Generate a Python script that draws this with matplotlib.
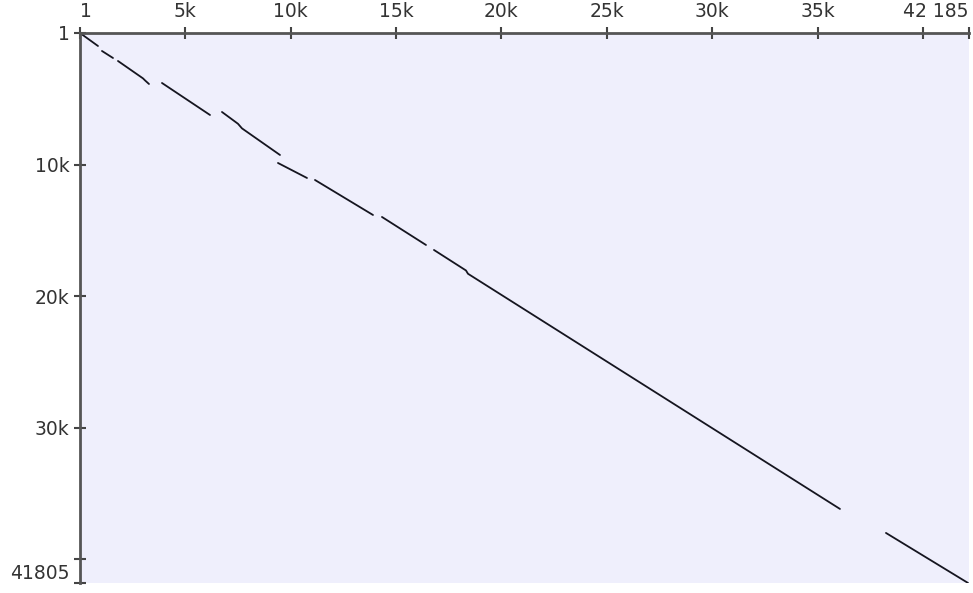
import matplotlib as mpl
mpl.use('Agg')
import matplotlib.pyplot as plt

# dot plot segments: query position (x) vs reference position (y)
seg_x = [
    [1, 854],
    [1044, 1566],
    [1803, 2990, 3084, 3274],
    [3891, 6169],
    [6738, 7497, 7687, 9490],
    [9395, 10771],
    [11151, 13903],
    [14330, 16418],
    [16797, 18316, 18411, 36062],
    [38245, 42136],
]
seg_y = [
    [1, 988],
    [1368, 1900],
    [2128, 3450, 3600, 3876],
    [3800, 6232],
    [6004, 6900, 7250, 9272],
    [9880, 11020],
    [11172, 13832],
    [13984, 16112],
    [16492, 18050, 18300, 36176],
    [38000, 41800],
]

x_len = 42185
y_len = 41805
x_ticks = [1, 5000, 10000, 15000, 20000, 25000, 30000, 35000, 40000, x_len]
x_labels = ['1', '5k', '10k', '15k', '20k', '25k', '30k', '35k', '', '42 185']
y_ticks = [1, 10000, 20000, 30000, 40000, y_len]
y_labels = ['1', '10k', '20k', '30k', '', '41805']

fig = plt.figure(figsize=(9.73, 5.93), dpi=100)
ax = fig.add_axes([80/973, 1-583/593, 889/973, 550/593])
ax.set_facecolor('#efeffc')

for xs, ys in zip(seg_x, seg_y):
    ax.plot(xs, ys, '-', color='#15151f', lw=1.3, solid_capstyle='round')

ax.set_xlim(1, x_len)
ax.set_ylim(y_len, 1)

for s in ['right', 'bottom']:
    ax.spines[s].set_visible(False)
for s in ['top', 'left']:
    ax.spines[s].set_color('#555555')
    ax.spines[s].set_linewidth(2.0)

ax.xaxis.tick_top()
ax.set_xticks(x_ticks)
ax.set_xticklabels(x_labels)
ax.set_yticks(y_ticks)
ax.set_yticklabels(y_labels)
ax.tick_params(axis='both', direction='inout', length=9, width=1.5, color='#444444',
               labelsize=13.5, labelcolor='#333333', pad=3)
ax.tick_params(axis='x', pad=4)

xl = ax.get_xticklabels()
xl[0].set_horizontalalignment('left')
xl[-1].set_horizontalalignment('right')
yl = ax.get_yticklabels()
yl[-1].set_verticalalignment('bottom')

plt.savefig('out.png', dpi=100)
plt.close('all')
